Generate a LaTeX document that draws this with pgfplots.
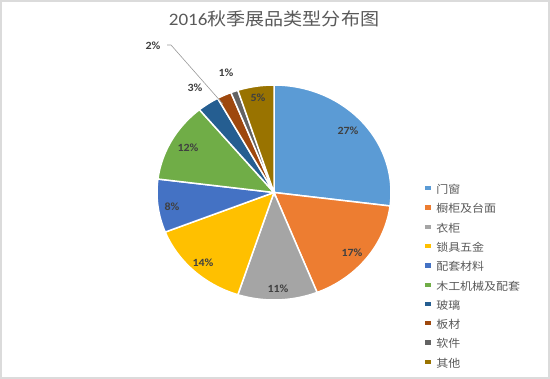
\documentclass[border=0pt]{standalone}
\usepackage{pgfplots}
\pgfplotsset{compat=1.18}
\usepackage{fontspec}
\setmainfont[FakeStretch=1.09]{Carlito}
\newfontfamily\cjk[FakeStretch=1.09]{Noto Sans CJK SC}
\definecolor{c1}{HTML}{5B9BD5}
\definecolor{c2}{HTML}{ED7D31}
\definecolor{c3}{HTML}{A5A5A5}
\definecolor{c4}{HTML}{FFC000}
\definecolor{c5}{HTML}{4472C4}
\definecolor{c6}{HTML}{70AD47}
\definecolor{c7}{HTML}{255E91}
\definecolor{c8}{HTML}{9E480E}
\definecolor{c9}{HTML}{636363}
\definecolor{c10}{HTML}{997300}
\definecolor{ttl}{HTML}{595959}
\definecolor{lbl}{HTML}{404040}
% #1 cumulative before, #2 value, #3 colour
\newcommand{\slice}[3]{%
  \addplot[fill=#3, draw=white, line width=1.5bp, domain={90-3.6*(#1+#2)}:{90-3.6*(#1)}, samples=60, variable=\t]
    ({274+117*cos(\t)},{186.5+107.5*sin(\t)}) -- (axis cs:274,186.5) -- cycle;}
\begin{document}
\begin{tikzpicture}
\begin{axis}[
  width=548bp, height=377bp, scale only axis,
  xmin=1, xmax=549, ymin=1, ymax=378,
  axis line style={draw=black!14, line width=2bp},
  ticks=none, clip=false,
  legend style={at={(0.772,0.511)}, anchor=north west, draw=none, fill=none, inner sep=0pt,
    font=\cjk\fontsize{11bp}{13bp}\selectfont, text=ttl, row sep=8.3bp,
    nodes={inner sep=0pt, text height=8bp, text depth=3bp}},
  legend cell align=left,
  legend image code/.code={\path[#1, draw=none, line width=0pt] (0bp,-0.5bp) rectangle (5.5bp,5bp); \path (0bp,0bp) -- (10.5bp,0bp);},
]
% values: 27,17,11,14,8,12,3,2,1,5
\slice{0}{27}{c1}  \addlegendentry{门窗}
\slice{27}{17}{c2} \addlegendentry{橱柜及台面}
\slice{44}{11}{c3} \addlegendentry{衣柜}
\slice{55}{14}{c4} \addlegendentry{锁具五金}
\slice{69}{8}{c5}  \addlegendentry{配套材料}
\slice{77}{12}{c6} \addlegendentry{木工机械及配套}
\slice{89}{3}{c7}  \addlegendentry{玻璃}
\slice{92}{2}{c8}  \addlegendentry{板材}
\slice{94}{1}{c9}  \addlegendentry{软件}
\slice{95}{5}{c10} \addlegendentry{其他}
\node[font=\fontsize{17.5bp}{20bp}\selectfont, text=ttl] at (axis cs:274,360) {2016{\cjk 秋季展品类型分布图}};
\begin{scope}[every node/.style={font=\bfseries\fontsize{11bp}{13bp}\selectfont, text=lbl}]
\node at (axis cs:348,248) {27\%};
\node at (axis cs:352,126) {17\%};
\node at (axis cs:278,90) {11\%};
\node at (axis cs:203,116) {14\%};
\node at (axis cs:172,172) {8\%};
\node at (axis cs:188,231) {12\%};
\node at (axis cs:258,281) {5\%};
\node at (axis cs:195,291) {3\%};
\node at (axis cs:226,306) {1\%};
\node at (axis cs:153,333) {2\%};
\end{scope}
\draw[black!40, line width=0.6bp] (axis cs:167,334) -- (axis cs:171,334) -- (axis cs:223,275);
\end{axis}
\end{tikzpicture}
\end{document}
